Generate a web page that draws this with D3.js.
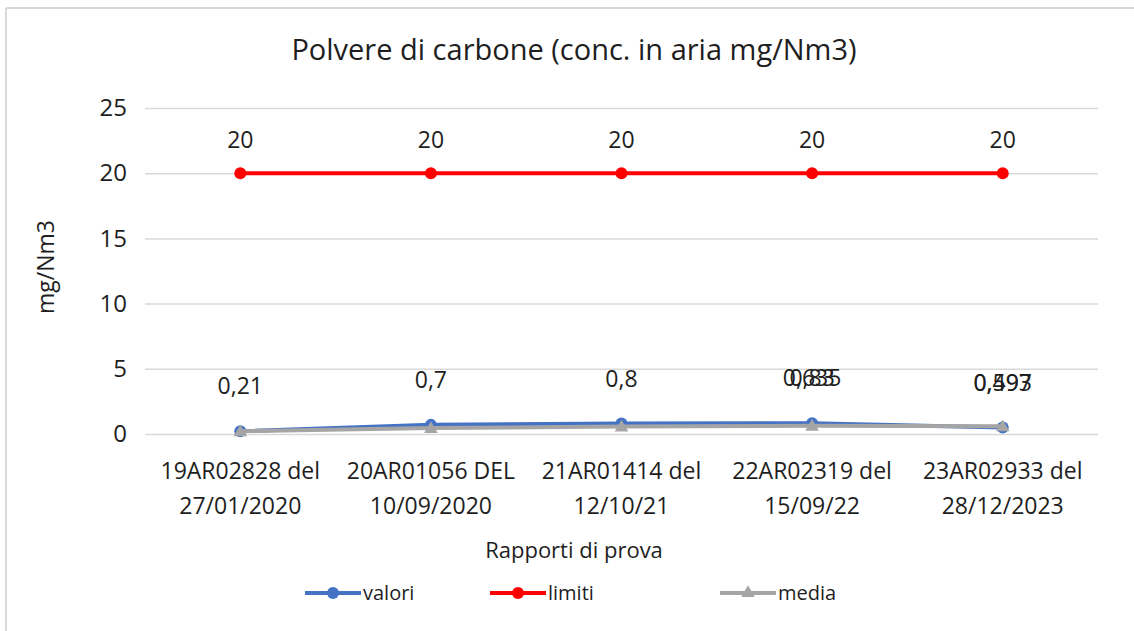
<!DOCTYPE html>
<html>
<head>
<meta charset="utf-8">
<script src="https://cdn.jsdelivr.net/npm/d3@7"></script>
<style>
  body { margin: 0; background: #fff; }
  svg text { font-family: "Open Sans", sans-serif; fill: #1e1e1e; }
</style>
</head>
<body>
<div id="vis"></div>
<script>
// data
const categories = [
  ["19AR02828 del", "27/01/2020"],
  ["20AR01056 DEL", "10/09/2020"],
  ["21AR01414 del", "12/10/21"],
  ["22AR02319 del", "15/09/22"],
  ["23AR02933 del", "28/12/2023"]
];
const valori = [0.21, 0.7, 0.8, 0.83, 0.497];
const limiti = [20, 20, 20, 20, 20];
const media = [0.21, 0.455, 0.57, 0.635, 0.593];
const mediaLabels = [null, null, null, "0,635", "0,593"];
const yTicks = [0, 5, 10, 15, 20, 25];

const width = 1134, height = 631;
const margin = { top: 108, bottom: 197, left: 145, right: 36 };

const svg = d3.select("#vis").append("svg")
  .attr("width", width)
  .attr("height", height);

// frame
svg.append("line").attr("x1", 6).attr("x2", width).attr("y1", 8).attr("y2", 8)
  .style("stroke", "#d9d9d9").style("stroke-width", 2);
svg.append("line").attr("x1", 6).attr("x2", 6).attr("y1", 8).attr("y2", height)
  .style("stroke", "#d9d9d9").style("stroke-width", 2);

const x = d3.scaleBand()
  .domain(d3.range(categories.length))
  .range([margin.left, width - margin.right]);

const y = d3.scaleLinear()
  .domain([0, 25])
  .range([height - margin.bottom, margin.top]);

const cx = i => x(i) + x.bandwidth() / 2;
const fmt = v => String(v).replace(".", ",");

// gridlines + y tick labels
const yAxis = d3.axisLeft(y)
  .tickValues(yTicks)
  .tickSize(-(width - margin.left - margin.right))
  .tickPadding(18);

svg.append("g")
  .attr("transform", `translate(${margin.left},0)`)
  .call(yAxis)
  .call(g => g.select(".domain").remove())
  .call(g => g.selectAll(".tick line").style("stroke", "#d9d9d9").style("stroke-width", 1.5))
  .call(g => g.selectAll(".tick text").style("font-size", "24px").style("fill", "#1e1e1e"));

// x category labels
const xl = svg.append("g");
categories.forEach((c, i) => {
  const t = xl.append("text")
    .attr("x", cx(i))
    .attr("y", 479)
    .style("text-anchor", "middle")
    .style("font-size", "23px");
  t.append("tspan").attr("x", cx(i)).text(c[0]);
  t.append("tspan").attr("x", cx(i)).attr("dy", 35).text(c[1]);
});

// titles
svg.append("text")
  .attr("x", 574).attr("y", 60)
  .style("text-anchor", "middle")
  .style("font-size", "29px")
  .text("Polvere di carbone (conc. in aria mg/Nm3)");

svg.append("text")
  .attr("x", 574).attr("y", 558)
  .style("text-anchor", "middle")
  .style("font-size", "22px")
  .text("Rapporti di prova");

svg.append("text")
  .attr("transform", `translate(54,${y(12.8)}) rotate(-90)`)
  .style("text-anchor", "middle")
  .style("font-size", "23px")
  .text("mg/Nm3");

const line = d3.line().x((d, i) => cx(i)).y(d => y(d));

// limiti
svg.append("path").datum(limiti)
  .attr("d", line).style("fill", "none").style("stroke", "#ff0000").style("stroke-width", 4);
svg.selectAll("circle.lim").data(limiti).join("circle")
  .attr("class", "lim")
  .attr("cx", (d, i) => cx(i)).attr("cy", d => y(d)).attr("r", 6)
  .style("fill", "#ff0000");
svg.selectAll("text.limlab").data(limiti).join("text")
  .attr("class", "limlab")
  .attr("x", (d, i) => cx(i)).attr("y", d => y(d) - 25)
  .style("text-anchor", "middle").style("font-size", "23px")
  .text(d => fmt(d));

// valori
svg.append("path").datum(valori)
  .attr("d", line).style("fill", "none").style("stroke", "#4472c4").style("stroke-width", 4);
svg.selectAll("circle.val").data(valori).join("circle")
  .attr("class", "val")
  .attr("cx", (d, i) => cx(i)).attr("cy", d => y(d)).attr("r", 6)
  .style("fill", "#4472c4");

// media
svg.append("path").datum(media)
  .attr("d", line).style("fill", "none").style("stroke", "#a5a5a5").style("stroke-width", 4);
const tri = d3.symbol().type(d3.symbolTriangle).size(80);
svg.selectAll("path.med").data(media).join("path")
  .attr("class", "med")
  .attr("d", tri)
  .attr("transform", (d, i) => `translate(${cx(i)},${y(d) + 1})`)
  .style("fill", "#a5a5a5");

// data labels valori + media (they overlap in the original too)
svg.selectAll("text.vallab").data(valori).join("text")
  .attr("class", "vallab")
  .attr("x", (d, i) => cx(i)).attr("y", d => y(d) - 37)
  .style("text-anchor", "middle").style("font-size", "23px")
  .text(d => fmt(d));
svg.selectAll("text.medlab").data(media).join("text")
  .attr("class", "medlab")
  .attr("x", (d, i) => cx(i)).attr("y", (d, i) => y(valori[i]) - 37)
  .style("text-anchor", "middle").style("font-size", "23px")
  .text((d, i) => mediaLabels[i] || "");

// legend
const legend = [
  { name: "valori", color: "#4472c4", x: 305, shape: "circle" },
  { name: "limiti", color: "#ff0000", x: 490, shape: "circle" },
  { name: "media", color: "#a5a5a5", x: 720, shape: "triangle" }
];
const lg = svg.selectAll("g.leg").data(legend).join("g")
  .attr("class", "leg")
  .attr("transform", d => `translate(${d.x},593)`);
lg.append("line").attr("x1", 0).attr("x2", 56).attr("y1", 0).attr("y2", 0)
  .style("stroke", d => d.color).style("stroke-width", 4);
lg.each(function(d) {
  const g = d3.select(this);
  if (d.shape === "circle") {
    g.append("circle").attr("cx", 28).attr("cy", 0).attr("r", 6).style("fill", d.color);
  } else {
    g.append("path").attr("d", tri).attr("transform", "translate(28,0)").style("fill", d.color);
  }
});
lg.append("text").attr("x", 58).attr("y", 7)
  .style("font-size", "20px")
  .text(d => d.name);
</script>
</body>
</html>
